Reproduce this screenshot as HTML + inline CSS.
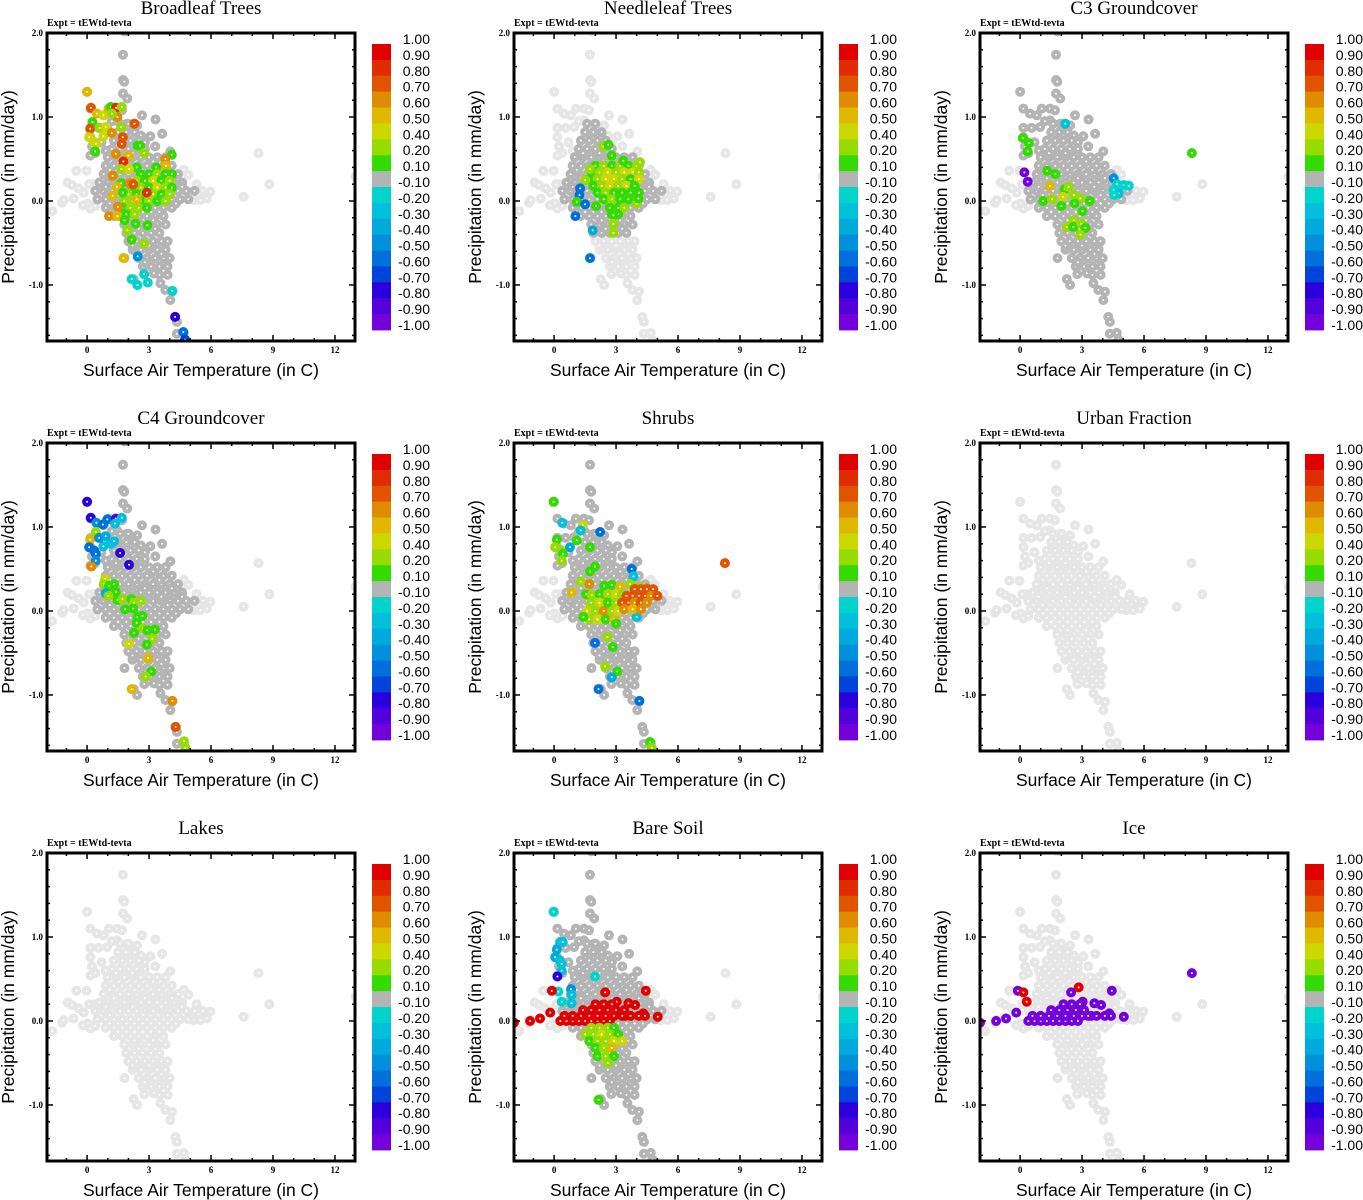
<!DOCTYPE html>
<html><head><meta charset="utf-8"><style>
html,body{margin:0;padding:0;background:#fff;}
svg{display:block;}
.ttl{font-family:"Liberation Serif",serif;font-size:19px;}
.expt{font-family:"Liberation Serif",serif;font-size:10px;font-weight:bold;}
.tick{font-family:"Liberation Serif",serif;font-size:9px;font-weight:bold;}
.ax{font-family:"Liberation Sans",sans-serif;font-size:17.5px;}
.cbl{font-family:"Liberation Sans",sans-serif;font-size:14px;}
</style></head><body>
<svg id="fig" width="1363" height="1200" xmlns="http://www.w3.org/2000/svg"></svg>
<script>
const panelTitles=["Broadleaf Trees","Needleleaf Trees","C3 Groundcover","C4 Groundcover","Shrubs","Urban Fraction","Lakes","Bare Soil","Ice"];
const panelGrayMode=["full","inner","full","full","full","none","none","full","none"];
const xTicks=[0,3,6,9,12];
const xTickLabels=["0","3","6","9","12"];
const yTicks=[-1,0,1,2];
const yTickLabels=["-1.0","0.0","1.0","2.0"];
const cbBounds=[1,0.9,0.8,0.7,0.6,0.5,0.4,0.2,0.1,-0.1,-0.2,-0.3,-0.4,-0.5,-0.6,-0.7,-0.8,-0.9,-1];
const cbLabels=["1.00","0.90","0.80","0.70","0.60","0.50","0.40","0.20","0.10","-0.10","-0.20","-0.30","-0.40","-0.50","-0.60","-0.70","-0.80","-0.90","-1.00"];
const cbColors=["#e00000","#e02c00","#e05400","#e08c00","#e0b800","#ccd800","#96dc00","#32dc00","#b4b4b4","#00d4cc","#00c0dc","#00aadc","#0090dc","#0070dc","#0044dc","#2a00dc","#5200dc","#7400dc"];

// gray cloud (x, y)
const cloudInner=[
[1.2,.62],[1.6,.62],[2.0,.62],[2.4,.62],[2.8,.62],
[1.0,.52],[1.4,.52],[1.8,.52],[2.2,.52],[2.6,.52],[3.0,.52],[3.4,.52],[3.8,.52],
[0.9,.42],[1.3,.42],[1.7,.42],[2.1,.42],[2.5,.42],[2.9,.42],[3.3,.42],[3.7,.42],[4.1,.42],
[0.8,.32],[1.2,.32],[1.6,.32],[2.0,.32],[2.4,.32],[2.8,.32],[3.2,.32],[3.6,.32],[4.0,.32],[4.4,.32],
[0.6,.22],[1.0,.22],[1.4,.22],[1.8,.22],[2.2,.22],[2.6,.22],[3.0,.22],[3.4,.22],[3.8,.22],[4.2,.22],[4.6,.22],
[0.4,.12],[0.8,.12],[1.2,.12],[1.6,.12],[2.0,.12],[2.4,.12],[2.8,.12],[3.2,.12],[3.6,.12],[4.0,.12],[4.4,.12],[4.8,.12],[5.2,.12],
[0.5,.02],[0.9,.02],[1.3,.02],[1.7,.02],[2.1,.02],[2.5,.02],[2.9,.02],[3.3,.02],[3.7,.02],[4.1,.02],[4.5,.02],[4.9,.02],
[0.9,-.08],[1.3,-.08],[1.7,-.08],[2.1,-.08],[2.5,-.08],[2.9,-.08],[3.3,-.08],[3.7,-.08],[4.1,-.08],
[1.3,-.18],[1.7,-.18],[2.1,-.18],[2.5,-.18],[2.9,-.18],[3.3,-.18],[3.7,-.18],
[1.8,-.28],[2.2,-.28],[2.6,-.28],[3.0,-.28],[3.4,-.28],[3.8,-.28],
[1.9,-.38],[2.3,-.38],[2.7,-.38],[3.1,-.38],[3.5,-.38],
[1.3,.72],[1.7,.72],[2.1,.72],[2.5,.72],[1.5,.82],[1.9,.82],[2.3,.82],[1.6,.92],[2.0,.92],
[1.4,.57],[2.2,.57],[3.2,.47],[1.1,.37],[2.3,.37],[3.5,.37],[1.3,.27],[2.8,.27],[4.1,.27],[0.9,.17],[2.2,.17],[3.6,.17],[4.6,.17],
[1.1,.07],[2.7,.07],[3.9,.07],[1.5,-.03],[3.1,-.03],[4.3,-.03],[1.9,-.13],[3.5,-.13],[2.3,-.23],[3.2,-.23],[2.5,-.33],[3.3,-.33]
];
const cloudOuter=[
[2.0,-.48],[2.4,-.48],[2.8,-.48],[3.2,-.48],[3.6,-.48],[3.9,-.48],
[2.2,-.58],[2.6,-.58],[3.0,-.58],[3.4,-.58],[3.8,-.58],
[2.5,-.68],[2.9,-.68],[3.3,-.68],[3.7,-.68],[4.0,-.68],
[2.7,-.78],[3.1,-.78],[3.5,-.78],[3.9,-.78],[3.5,-.88],[3.9,-.88],
[2.2,-.53],[3.0,-.53],[3.6,-.63],[2.8,-.73],[3.3,-.83],
[1.81,2.02],[1.74,1.74],[1.74,1.44],[1.8,1.42],[1.74,1.28],[1.94,1.22],[0,1.30],
[0.16,1.10],[0.48,1.04],[0.81,1.02],[1.05,1.10],[1.45,1.10],[1.69,1.08],[2.66,1.02],[3.31,.97],[3.63,.80],
[0.16,.87],[0.56,.87],[0.97,.88],[0.16,.76],[0.24,.65],[0.40,.57],[0.16,.54],[2.42,.90],[3.06,.77],[1.45,.96],[1.94,.92],[2.26,.85],[4.03,.59],
[2.8,.7],[3.3,.65],[2.6,.78],[1.2,.95],[0.7,.7],[0.9,.6],
[1.81,-.68],[2.26,-.93],[2.42,-1.0],[2.77,-.87],[3.23,-.86],[3.55,-.98],[3.79,-1.06],[4.11,-1.08],[4.03,-1.18],[4.27,-1.38],[4.35,-1.44],[4.35,-1.58],[4.68,-1.57],[4.76,-1.65]
];
const cloudFringe=[
[-1.69,-.12],[-1.21,-.02],[-1.13,.01],[-0.65,.03],[-0.94,.22],[-0.73,.19],[-0.52,.36],[-0.03,.36],[-0.16,.10],[0.03,-.03],[0.16,-.09],[0.3,.2],
[-0.4,.15],[0.1,.2],[-0.2,-.05],[0.4,-.06],
[5.97,.11],[5.48,.01],[5.8,.03],[5.16,.01],[4.9,.31],[4.68,.37],[5.3,.2],[5.6,.12],[5.0,.05],[5.4,.08],
[8.3,.57],[8.82,.2],[7.58,.05],[13.0,.29]
];

// coloured points per panel: [x, y, value]
const valsBroadleaf=[
[0,1.30,.55],[0.19,1.11,.75],[0.47,1.04,.55],[0.79,1.02,.45],[1.03,1.10,.55],[1.15,1.12,.15],[1.40,1.11,.85],[1.68,1.12,.3],[1.47,1.0,.65],[1.2,1.04,.3],
[0.26,.94,.15],[0.15,.86,.75],[0.6,.87,.3],[0.9,.88,.45],[0.1,.76,.45],[0.31,.71,.45],[0.42,.68,.4],[0.39,.59,.15],[0.79,.77,.45],[1.19,.81,.65],
[1.73,.76,.75],[1.68,.68,.75],[1.65,.88,.3],[2.29,.92,.75],[2.44,.66,.15],[2.56,.66,.15],[2.76,.57,.3],[1.39,.56,.65],[2.0,.54,.55],[1.76,.47,.85],
[4.1,.55,.15],[3.79,.5,.65],[3.81,.42,.55],[3.34,.4,.15],[2.4,.4,.15],[1.66,.38,.3],[2.03,.38,.4],[1.24,.3,.65],
[2.6,.32,.15],[3.0,.32,.15],[3.4,.32,.3],[3.8,.32,.15],[4.1,.32,.15],
[2.4,.24,.3],[2.8,.24,.15],[3.2,.24,.45],[3.6,.24,.15],[4.0,.24,.3],
[2.2,.16,.15],[2.6,.16,.3],[3.0,.16,.15],[3.4,.16,.45],[3.8,.16,.3],[4.1,.16,.15],
[2.0,.08,.3],[2.4,.08,.15],[2.8,.08,.3],[3.2,.08,.3],[3.6,.08,.15],[4.0,.08,.3],
[1.8,0,.3],[2.2,0,.3],[2.6,0,.15],[3.0,0,.3],[3.4,0,.15],[3.8,0,.3],
[1.7,-.08,.15],[2.1,-.08,.3],[2.5,-.08,.3],[2.9,-.08,.15],[1.9,-.16,.15],[2.3,-.16,.3],
[1.65,.21,.15],[2.05,.21,.65],[2.24,.2,.75],[2.89,.1,.85],[1.44,.17,.55],[1.73,.1,.15],[1.24,.06,.55],[2.4,.02,.55],[1.49,-.07,.65],
[1.06,-.18,.6],[1.47,-.18,.55],[1.81,-.23,.15],[2.35,-.27,.15],[2.92,-.29,.15],[1.95,-.35,.3],[2.16,-.46,.15],[2.76,-.51,.3],[1.76,-.68,.55],
[2.45,-.66,-.45],[2.16,-.93,-.15],[2.44,-1.0,-.15],[2.76,-.87,-.15],[2.94,-.97,-.15],[4.13,-1.07,-.15],[4.26,-1.38,-.75],[4.66,-1.56,-.55],[4.74,-1.65,-.65]
];
const valsNeedleleaf=[
[2.0,.42,.15],[2.4,.42,.3],[2.8,.42,.15],[3.2,.42,.3],[3.6,.42,.15],[4.0,.42,.3],
[1.8,.34,.15],[2.2,.34,.3],[2.6,.34,.45],[3.0,.34,.3],[3.4,.34,.45],[3.8,.34,.45],[4.1,.34,.3],
[1.7,.26,.15],[2.1,.26,.3],[2.5,.26,.45],[2.9,.26,.45],[3.3,.26,.3],[3.7,.26,.15],[4.1,.26,.45],
[1.9,.18,.15],[2.3,.18,.3],[2.7,.18,.45],[3.1,.18,.3],[3.5,.18,.45],[3.9,.18,.15],
[2.1,.10,.15],[2.5,.10,.3],[2.9,.10,.15],[3.3,.10,.15],[3.7,.10,.15],[4.1,.10,.15],
[2.4,.02,.15],[2.8,.02,.3],[3.2,.02,.15],[3.6,.02,.15],[2.7,-.08,.15],[3.1,-.08,.15],[3.4,-.08,.3],[2.8,-.16,.15],[3.1,-.16,.15],
[2.39,.65,.3],[2.63,.67,.15],[2.79,.54,.15],[3.35,.48,.15],[4.16,.46,.3],[1.74,.38,.3],[1.5,.25,.3],[1.26,.15,-.55],[1.23,.07,-.55],
[1.1,-.01,.15],[1.5,-.04,-.55],[1.03,-.18,-.55],[2.03,-.06,.15],[1.87,-.35,-.35],[1.74,-.68,-.55],[2.87,-.17,.15],[2.87,-.27,.3],[2.87,-.38,.3],[4.0,-.03,.3],[4.08,.03,.15]
];
const valsC3=[
[0.13,.75,.15],[0.42,.69,.15],[0.37,.59,.15],[0.21,.34,-.95],[0.37,.23,-.95],[1.31,.36,.15],[1.71,.32,.15],[1.44,.18,.55],[2.16,.14,.15],[2.35,.17,.3],
[2.08,.05,.45],[2.6,.07,.3],[2.92,.03,.3],[1.11,0,.15],[1.55,.02,.3],[2.0,-.06,.15],[2.63,-.03,.15],[3.37,0,.15],[3.02,-.12,.15],[2.6,-.23,.3],
[2.26,-.31,.3],[2.58,-.31,.15],[2.97,-.27,.3],[3.16,-.32,.15],[2.92,-.4,.3],[8.32,.57,.15],
[4.53,.27,-.45],[4.7,.2,-.15],[5.02,.19,-.15],[5.26,.18,-.15],[4.53,.13,-.15],[4.77,.09,-.25],[4.56,.07,-.15],[2.19,.92,-.25]
];
const valsC4=[
[0,1.30,-.75],[0.18,1.11,-.75],[0.45,1.05,-.45],[0.77,1.03,-.55],[0.98,1.09,-.55],[1.39,1.10,-.85],[1.35,1.04,-.25],[1.68,1.11,-.25],[0.42,.94,.3],[0.15,.85,.55],
[0.1,.76,-.55],[0.58,.87,-.45],[0.9,.89,-.35],[0.79,.77,-.25],[1.15,.8,-.25],[1.31,.83,-.25],[0.34,.72,-.55],[0.42,.68,-.55],[0.42,.6,-.45],[0.21,.53,.65],
[2.03,.55,-.75],[1.6,.69,-.75],
[0.87,.38,.45],[0.82,.32,.3],[1.06,.3,.15],[1.31,.32,.15],[1.39,.23,.15],[0.9,.21,-.35],[1.03,.18,.3],[1.47,.13,.15],[1.71,.14,.3],[2.15,.14,.15],
[2.27,.1,.3],[2.6,.12,.3],[1.84,.02,.15],[2.24,.03,.15],[2.44,-.07,.15],[2.68,-.06,.15],[2.4,-.14,.15],[2.27,-.26,.15],[2.71,-.21,.3],[2.92,-.23,.15],
[3.29,-.22,.15],[3.16,-.33,.3],[2.89,-.4,.15],[2.03,-.39,.45],[2.95,-.56,.55],[3.11,-.72,.15],[2.84,-.78,.3],[2.16,-.93,.55],[4.13,-1.07,.65],[4.29,-1.38,.75],[4.69,-1.55,.3],[4.76,-1.63,.3]
];
const valsShrubs=[
[-0.03,1.30,.15],[0.4,1.05,-.25],[1.39,1.02,.45],[1.29,.96,-.25],[2.23,.94,-.55],[0.13,.85,.15],[1.1,.84,.15],[0.05,.76,.3],[0.37,.72,.3],[0.42,.68,.15],
[0.37,.6,.3],[0.77,.76,-.35],[1.74,.76,.15],[1.98,.53,.15],[1.74,.47,.15],[3.76,.50,-.55],[3.84,.41,-.25],[1.29,.35,.3],[1.71,.32,.65],[0.85,.22,.55],
[1.55,.2,.15],[1.82,.19,.3],[2.26,.19,.65],[2.42,.3,.15],[2.79,.31,.15],[3.19,.29,.55],[3.68,.32,.3],[4.11,.29,.3],[4.48,.27,.65],
[2.2,.2,.15],[2.6,.2,.3],[3.0,.2,.45],[3.3,.2,.3],[1.8,.1,.3],[2.2,.1,.45],[2.6,.1,.15],[3.0,.1,.3],
[1.6,0,.45],[2.0,0,.3],[2.4,0,.65],[2.8,0,.3],[3.1,0,.45],[1.7,-.1,.3],[2.1,-.1,.45],[2.5,-.1,.15],[2.9,-.1,.55],
[3.0,-.15,.15],[1.42,-.07,.15],[4.0,-.07,-.25],[2.58,-.31,.3],[1.98,-.38,-.55],[2.84,-.43,.15],[2.47,-.66,.3],[3.06,-.72,.15],[2.79,-.79,-.35],[2.15,-.93,-.55],[4.13,-1.07,-.55],[4.65,-1.56,.15],[4.73,-1.63,.3],[8.27,.57,.75],
[3.9,.26,.75],[4.2,.26,.75],[4.5,.26,.75],[4.8,.26,.75],[3.5,.18,.75],[3.8,.18,.75],[4.1,.18,.75],[4.4,.18,.75],[4.7,.18,.65],[5.0,.18,.75],
[3.3,.10,.75],[3.6,.10,.75],[3.9,.10,.65],[4.2,.10,.75],[4.5,.10,.65],[3.4,.02,.65],[3.8,.02,.55],[4.2,.02,.65]
];
const valsUrban=[];
const valsLakes=[];
const valsBare=[
[-0.03,1.30,-.15],[0.29,.94,-.25],[0.42,.94,-.25],[0.13,.85,-.35],[0.05,.76,-.35],[0.29,.72,-.25],[0.37,.68,-.25],[0.37,.6,-.25],[0.16,.53,-.75],[0.21,.35,-.15],
[0.82,.38,-.45],[0.85,.31,-.25],[0.37,.23,-.15],[0.85,.21,-.25],[1.98,.53,-.15],
[-1.94,-.02,1],[-1.16,0,1],[-0.68,.03,1],[-0.19,.1,1],[-0.11,.36,1],[4.44,.36,1],[2.47,.34,1],[5.02,.05,1],[3.6,.21,1],[3.92,.19,1],[3.03,.23,1],[3.44,.06,1],[4.32,.09,1],
[0.3,0,1],[0.6,0,1],[0.9,0,1],[1.2,0,1],[1.5,0,1],[1.8,0,1],[2.1,0,1],[2.4,0,1],[2.7,0,1],
[0.5,.06,1],[0.9,.06,1],[1.3,.06,1],[1.7,.06,1],[2.1,.06,1],[2.5,.06,1],[2.9,.06,1],[3.3,.06,1],[3.7,.06,1],[4.1,.06,1],[4.4,.06,1],
[1.4,.13,1],[1.8,.13,1],[2.2,.13,1],[2.6,.13,1],[3.0,.13,1],[3.4,.13,1],[2.0,.2,1],[2.4,.2,1],[2.8,.2,1],
[1.8,-.08,.3],[2.2,-.08,.3],[2.6,-.08,.3],[2.9,-.08,.15],[1.5,-.16,.3],[1.9,-.16,.3],[2.3,-.16,.45],[2.7,-.16,.3],[3.1,-.16,.15],
[1.7,-.24,.15],[2.1,-.24,.3],[2.5,-.24,.3],[2.9,-.24,.45],[3.3,-.24,.45],[2.0,-.32,.15],[2.4,-.32,.3],[2.8,-.32,.55],
[2.1,-.42,.15],[2.5,-.42,.3],[2.9,-.42,.15],[2.6,-.5,.3],[2.15,-.94,.15]
];
const valsIce=[
[-1.94,-.02,-.95],[-1.16,0,-.95],[-0.68,.03,-.95],[-0.19,.1,-.95],[-0.11,.36,-.95],[4.44,.36,-.95],[2.47,.34,-.95],[5.02,.05,-.95],[3.6,.21,-.95],[3.92,.19,-.95],[3.03,.23,-.95],[3.44,.06,-.95],[4.32,.09,-.95],[8.32,.57,-.95],
[0.16,.34,1],[0.32,.23,1],[2.84,.4,1],
[0.4,0,-.95],[0.7,0,-.95],[1.0,0,-.95],[1.3,0,-.95],[1.6,0,-.95],[1.9,0,-.95],[2.2,0,-.95],[2.5,0,-.95],[2.8,0,-.95],
[0.6,.06,-.95],[1.0,.06,-.95],[1.4,.06,-.95],[1.8,.06,-.95],[2.2,.06,-.95],[2.6,.06,-.95],[3.0,.06,-.95],[3.3,.06,-.95],[3.7,.06,-.95],[4.1,.06,-.95],[4.4,.06,-.95],
[1.5,.13,-.95],[1.9,.13,-.95],[2.3,.13,-.95],[2.7,.13,-.95],[3.1,.13,-.95],[2.1,.2,-.95],[2.5,.2,-.95],[2.9,.2,-.95]
];
const panelValues=[valsBroadleaf,valsNeedleleaf,valsC3,valsC4,valsShrubs,valsUrban,valsLakes,valsBare,valsIce];

const NS="http://www.w3.org/2000/svg";
const svg=document.getElementById("fig");
const colDx=[0,467,933], rowDy=[0,410,820];
const PL=47,PT=33,PW=308,PH=308,XMIN=-1.94,XMAX=12.97,YMIN=-1.667,YMAX=2.0;
function sx(x){return PL+(x-XMIN)/(XMAX-XMIN)*PW;}
function sy(y){return PT+(YMAX-y)/(YMAX-YMIN)*PH;}
function mk(tag,attrs,parent){const e=document.createElementNS(NS,tag);for(const k in attrs)e.setAttribute(k,attrs[k]);parent.appendChild(e);return e;}
function colorFor(v){for(let i=0;i<cbColors.length;i++){if(v<=cbBounds[i]&&v>=cbBounds[i+1])return cbColors[i];}return cbColors[cbColors.length-1];}
function dot(g,x,y,c){const e=mk("circle",{cx:sx(x).toFixed(1),cy:sy(y).toFixed(1),r:3.0,fill:"#fff",stroke:c,"stroke-width":4.0},g);

}

const defs=mk("defs",{},svg);
const cp=mk("clipPath",{id:"plotclip"},defs);
mk("rect",{x:PL,y:PT,width:PW,height:PH},cp);

for(let p=0;p<9;p++){
  const g=mk("g",{transform:`translate(${colDx[p%3]},${rowDy[Math.floor(p/3)]})`},svg);
  
  
  const t=mk("text",{x:201,y:14,"text-anchor":"middle",class:"ttl"},g);t.textContent=panelTitles[p];
  
  
  const ex=mk("text",{x:47,y:26,class:"expt"},g);ex.textContent="Expt = tEWtd-tevta";
  
  
  const pts=mk("g",{"clip-path":"url(#plotclip)"},g);
  
  
  const mode=panelGrayMode[p];
  const light="#e6e6e6",dark="#b4b4b4";
  cloudFringe.forEach(q=>dot(pts,q[0],q[1],light));
  cloudOuter.forEach(q=>dot(pts,q[0],q[1],mode==="full"?dark:light));
  cloudInner.forEach(q=>dot(pts,q[0],q[1],mode==="none"?light:dark));
  panelValues[p].forEach(q=>dot(pts,q[0],q[1],colorFor(q[2])));
  const fr=mk("rect",{x:PL,y:PT,width:PW,height:PH,fill:"none",stroke:"#000","stroke-width":3},g);
  
  
  const tk=mk("g",{stroke:"#000","stroke-width":1.5},g);
  
  
  for(let x=-1;x<=12;x++){const maj=x%3===0;const L=maj?6:3;const X=sx(x);
    mk("line",{x1:X,x2:X,y1:PT+PH,y2:PT+PH-L},tk);mk("line",{x1:X,x2:X,y1:PT,y2:PT+L},tk);}
  for(let i=-8;i<=10;i++){const y=i*0.2;const maj=i%5===0;const L=maj?6:3;const Y=sy(y);
    mk("line",{x1:PL,x2:PL+L,y1:Y,y2:Y},tk);mk("line",{x1:PL+PW,x2:PL+PW-L,y1:Y,y2:Y},tk);}
  xTicks.forEach((v,i)=>{const e=mk("text",{x:sx(v),y:353,"text-anchor":"middle",class:"tick"},g);e.textContent=xTickLabels[i];
    
    });
  yTicks.forEach((v,i)=>{const e=mk("text",{x:43,y:sy(v)+3,"text-anchor":"end",class:"tick"},g);e.textContent=yTickLabels[i];
    
    });
  const xt=mk("text",{x:201,y:376,"text-anchor":"middle",class:"ax"},g);xt.textContent="Surface Air Temperature (in C)";
  
  
  const yt=mk("text",{transform:"translate(14,187) rotate(-90)","text-anchor":"middle",class:"ax"},g);yt.textContent="Precipitation (in mm/day)";
  
  
  const cb=mk("g",{},g);
  
  
  const bh=286/cbColors.length;
  cbColors.forEach((c,i)=>{const r=mk("rect",{x:372,y:(44+i*bh).toFixed(2),width:19,height:(bh+0.4).toFixed(2),fill:c},cb);
    
    });
  cbLabels.forEach((l,i)=>{const e=mk("text",{x:430,y:(44+i*bh).toFixed(1),"text-anchor":"end",class:"cbl"},cb);e.textContent=l;
    
    });
}
</script>
</body></html>
